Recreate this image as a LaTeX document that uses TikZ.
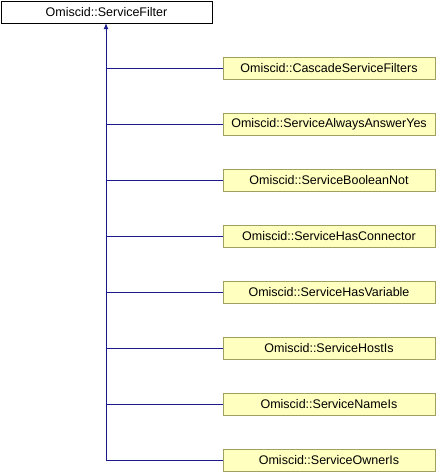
\documentclass[tikz,border=0pt]{standalone}
\usepackage{fontspec}
\setmainfont{Liberation Sans}
\usetikzlibrary{arrows.meta}
\definecolor{boxfill}{HTML}{FFFFC0}
\definecolor{boxline}{HTML}{A0A060}
\definecolor{edge}{HTML}{1A1A8C}
\begin{document}
\begin{tikzpicture}[x=1pt,y=-1pt,
  base/.style={draw=black,fill=white,minimum width=211pt,minimum height=22pt,inner sep=0pt,font=\fontsize{12.5}{14}\selectfont},
  child/.style={draw=boxline,fill=boxfill,minimum width=212pt,minimum height=22pt,inner sep=0pt,font=\fontsize{12.5}{14}\selectfont},
  conn/.style={draw=edge,line width=0.9pt}]
\useasboundingbox (0,0) rectangle (436,472);
\node[base] (root) at (106.5,12) {Omiscid::ServiceFilter};
\node[child] (c1) at (329,68) {Omiscid::CascadeServiceFilters};
\node[child] (c2) at (329,124) {Omiscid::ServiceAlwaysAnswerYes};
\node[child] (c3) at (329,180) {Omiscid::ServiceBooleanNot};
\node[child] (c4) at (329,236) {Omiscid::ServiceHasConnector};
\node[child] (c5) at (329,292) {Omiscid::ServiceHasVariable};
\node[child] (c6) at (329,348) {Omiscid::ServiceHostIs};
\node[child] (c7) at (329,404) {Omiscid::ServiceNameIs};
\node[child] (c8) at (329,460) {Omiscid::ServiceOwnerIs};
\coordinate (j) at (106,460);
\draw[conn,-{Latex[length=6pt,width=5pt]}] (j) -- (root.south -| j);
\foreach \i in {1,...,8} {
  \draw[conn] (c\i.west) -- (c\i.west -| j);
}
\end{tikzpicture}
\end{document}
